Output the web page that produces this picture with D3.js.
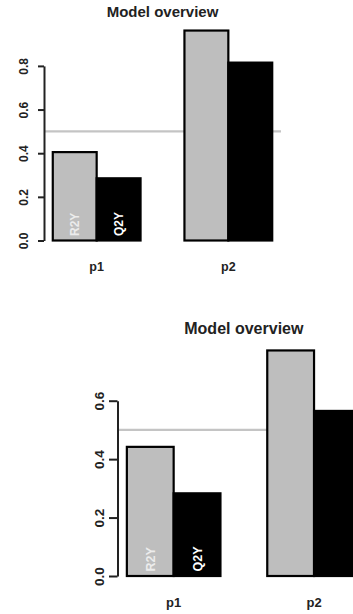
<!DOCTYPE html>
<html>
<head>
<meta charset="utf-8">
<script src="https://cdn.jsdelivr.net/npm/d3@7"></script>
<style>
  body { margin: 0; background: #fff; }
  svg { display: block; font-family: "Liberation Sans", Arial, sans-serif; }
</style>
</head>
<body>
<svg id="chart" width="353" height="614"></svg>
<script>
// data
var groups = ["p1", "p2"];
var series = ["R2Y", "Q2Y"];
var topR2Y = [0.405, 0.962];
var topQ2Y = [0.285, 0.815];
var bottomR2Y = [0.442, 0.772];
var bottomQ2Y = [0.283, 0.565];
var topTicks = [0, 0.2, 0.4, 0.6, 0.8];
var bottomTicks = [0, 0.2, 0.4, 0.6];
var refValue = 0.5;
var title = "Model overview";

var seriesFill = {R2Y: "#bebebe", Q2Y: "#000"};
var labelFill = {R2Y: "#ececec", Q2Y: "#fff"};

var svg = d3.select("#chart");

// layouts for the two panels
var panels = [
    {
        r2y: topR2Y, q2y: topQ2Y, ticks: topTicks,
        left: 44, right: 281, y0: 240.5, yTop: 65.9,
        titleY: 16.5, titleSize: 15,
        tickLen: 6, tickLabelOff: 16.5, tickSize: 12,
        catY: 271, catSize: 12.5, barLabelSize: 12
    },
    {
        r2y: bottomR2Y, q2y: bottomQ2Y, ticks: bottomTicks,
        left: 117.5, right: 370.2, y0: 576, yTop: 400.7,
        titleY: 334, titleSize: 16,
        tickLen: 8.5, tickLabelOff: 14, tickSize: 13.5,
        catY: 606.5, catSize: 13, barLabelSize: 12.5
    }
];

function drawPanel(p) {
    var g = svg.append("g");

    var rows = groups.map(function(name, i) {
        return {group: name, values: [
            {key: "R2Y", value: p.r2y[i]},
            {key: "Q2Y", value: p.q2y[i]}
        ]};
    });

    var maxTick = p.ticks[p.ticks.length - 1];

    var x = d3.scaleBand()
        .domain(groups)
        .range([p.left, p.right])
        .paddingInner(1 / 3)
        .paddingOuter(0.2 / 3);

    var xInner = d3.scaleBand()
        .domain(series)
        .range([0, x.bandwidth()]);

    var y = d3.scaleLinear()
        .domain([0, maxTick])
        .range([p.y0, p.yTop]);

    // reference line under the bars
    g.append("line")
        .attr("x1", p.left)
        .attr("x2", p.right)
        .attr("y1", y(refValue))
        .attr("y2", y(refValue))
        .attr("stroke", "#c4c4c4")
        .attr("stroke-width", 2.2);

    var grp = g.selectAll(".grp")
        .data(rows)
        .enter().append("g")
        .attr("class", "grp")
        .attr("transform", function(d) { return `translate(${x(d.group)},0)`; });

    grp.selectAll("rect")
        .data(function(d) { return d.values; })
        .enter().append("rect")
        .attr("x", function(d) { return xInner(d.key); })
        .attr("width", xInner.bandwidth())
        .attr("y", function(d) { return y(d.value); })
        .attr("height", function(d) { return y(0) - y(d.value); })
        .attr("fill", function(d) { return seriesFill[d.key]; })
        .attr("stroke", "#000")
        .attr("stroke-width", 2.2);

    // series names inside the first group only
    grp.filter(function(d, i) { return i === 0; })
        .selectAll(".blab")
        .data(function(d) { return d.values; })
        .enter().append("text")
        .attr("class", "blab")
        .attr("transform", function(d) {
            return `translate(${xInner(d.key) + xInner.bandwidth() / 2},${y(0) - 4.5}) rotate(-90)`;
        })
        .attr("dy", "0.36em")
        .attr("text-anchor", "start")
        .attr("font-size", p.barLabelSize)
        .attr("font-weight", "bold")
        .attr("fill", function(d) { return labelFill[d.key]; })
        .text(function(d) { return d.key; });

    // y axis
    var axis = g.append("g")
        .attr("transform", `translate(${p.left},0)`)
        .call(d3.axisLeft(y)
            .tickValues(p.ticks)
            .tickFormat(d3.format(".1f"))
            .tickSizeInner(p.tickLen)
            .tickSizeOuter(0));

    axis.select(".domain").attr("stroke", "#222").attr("stroke-width", 2);
    axis.selectAll(".tick line").attr("stroke", "#222").attr("stroke-width", 2);
    axis.selectAll(".tick text")
        .attr("x", null)
        .attr("dy", null)
        .attr("transform", `translate(${-p.tickLabelOff},0) rotate(-90)`)
        .attr("text-anchor", "middle")
        .attr("font-size", p.tickSize)
        .attr("font-weight", "bold")
        .attr("font-family", "'Liberation Sans', Arial, sans-serif")
        .attr("fill", "#222");

    // category labels
    g.selectAll(".cat")
        .data(groups)
        .enter().append("text")
        .attr("class", "cat")
        .attr("x", function(d) { return x(d) + x.bandwidth() / 2; })
        .attr("y", p.catY)
        .attr("text-anchor", "middle")
        .attr("font-size", p.catSize)
        .attr("font-weight", "bold")
        .attr("fill", "#222")
        .text(function(d) { return d; });

    // title
    g.append("text")
        .attr("x", (p.left + p.right) / 2)
        .attr("y", p.titleY)
        .attr("text-anchor", "middle")
        .attr("font-size", p.titleSize)
        .attr("font-weight", "bold")
        .attr("fill", "#222")
        .text(title);
}

panels.forEach(drawPanel);
</script>
</body>
</html>
